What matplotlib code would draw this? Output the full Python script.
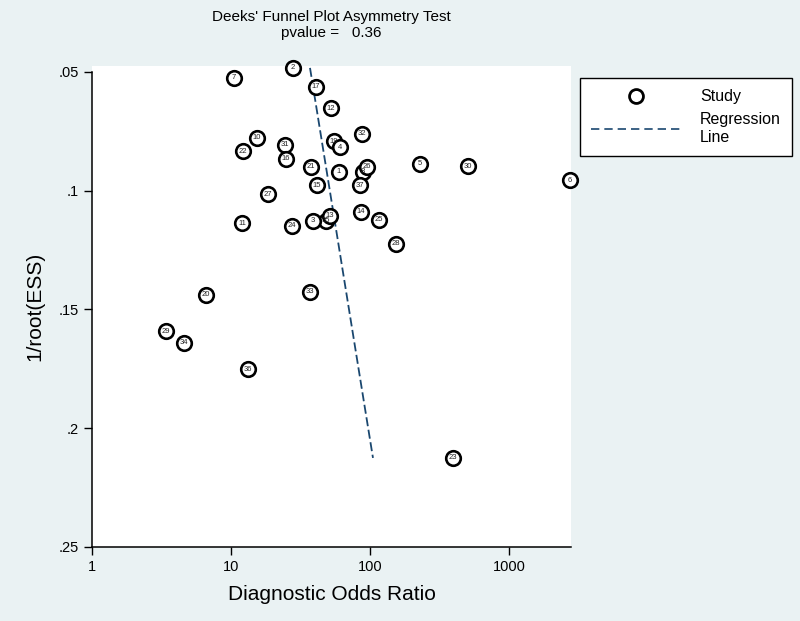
import matplotlib
matplotlib.use("Agg")
import matplotlib.pyplot as plt
from matplotlib.lines import Line2D

plt.rcParams['font.family'] = ['Liberation Sans', 'DejaVu Sans']

# study data: diagnostic odds ratio and 1/root(ESS)
study = ['7', '2', '17', '12', '32', '10', '31', '22', '19', '4',
         '16', '21', '1', '8', '26', '5', '30', '6', '15', '37',
         '27', '14', '35', '13', '3', '11', '24', '25', '28', '20',
         '33', '29', '34', '36', '23']
dor = [10.5, 27.9, 40.9, 52.4, 87.6, 15.4, 24.5, 12.2, 55.1, 60.8,
       24.9, 37.6, 59.8, 89.1, 95.1, 229, 507, 2748, 41.6, 84.7,
       18.5, 86.1, 48.2, 51.6, 38.9, 12.0, 27.5, 116, 154, 6.61,
       37.0, 3.41, 4.59, 13.3, 395]
inv_ess = [0.0525, 0.0483, 0.0563, 0.0652, 0.0761, 0.0778, 0.0807, 0.0833, 0.0791, 0.0816,
           0.0866, 0.0900, 0.0921, 0.0921, 0.0900, 0.0887, 0.0896, 0.0955, 0.0976, 0.0976,
           0.1014, 0.1089, 0.1127, 0.1106, 0.1127, 0.1136, 0.1148, 0.1123, 0.1224, 0.1439,
           0.1426, 0.1591, 0.1641, 0.1751, 0.2125]

# fitted regression line endpoints
reg_x = [37.0, 105.0]
reg_y = [0.0483, 0.2125]

xticks = [1, 10, 100, 1000]
yticks = [0.05, 0.1, 0.15, 0.2, 0.25]
ytick_labels = ['.05', '.1', '.15', '.2', '.25']

bg = '#eaf2f3'
fig = plt.figure(figsize=(8, 6.21), dpi=100, facecolor=bg)
ax = fig.add_axes([0.115, 0.1192, 0.599, 0.7745])
ax.set_facecolor('white')

ax.plot(reg_x, reg_y, color='#1a476f', lw=1.3, ls=(0, (5, 2)), zorder=2)
ax.scatter(dor, inv_ess, s=110, facecolor='white', edgecolor='black', lw=1.9,
           zorder=3, clip_on=False)
for lab, x, y in zip(study, dor, inv_ess):
    ax.text(x, y, lab, fontsize=5.5, ha='center', va='center', color='#222222',
            zorder=4, clip_on=False)

ax.set_xscale('log')
ax.set_xlim(1, 2800)
ax.set_ylim(0.25, 0.0475)
ax.set_xticks(xticks)
ax.set_xticklabels([str(t) for t in xticks])
ax.minorticks_off()
ax.set_yticks(yticks)
ax.set_yticklabels(ytick_labels)
ax.tick_params(axis='both', direction='out', length=6, width=1, labelsize=10.5, color='black')

for s in ['top', 'right']:
    ax.spines[s].set_visible(False)
ax.spines['left'].set_bounds(0.25, 0.05)
ax.spines['left'].set_linewidth(1.1)
ax.spines['bottom'].set_linewidth(1.1)

ax.set_xlabel('Diagnostic Odds Ratio', fontsize=15, labelpad=8)
ax.set_ylabel('1/root(ESS)', fontsize=15, labelpad=10)

fig.text(0.414, 0.972, "Deeks' Funnel Plot Asymmetry Test", ha='center', va='center', fontsize=11)
fig.text(0.414, 0.947, 'pvalue =   0.36', ha='center', va='center', fontsize=11)

handles = [Line2D([], [], marker='o', ls='none', markersize=10, markerfacecolor='white',
                  markeredgecolor='black', markeredgewidth=2),
           Line2D([], [], color='#1a476f', lw=1.2, ls=(0, (5, 3)))]
leg = fig.legend(handles, ['Study', 'Regression\nLine'], loc='upper left',
                 bbox_to_anchor=(0.725, 0.874), borderaxespad=0, fontsize=11.5,
                 frameon=True, fancybox=False, edgecolor='black', facecolor='white',
                 framealpha=1, handlelength=5.6, handletextpad=1.2, borderpad=0.7,
                 labelspacing=0.5)
leg.get_frame().set_linewidth(1.0)

fig.savefig('out.png', dpi=100, facecolor=bg)
